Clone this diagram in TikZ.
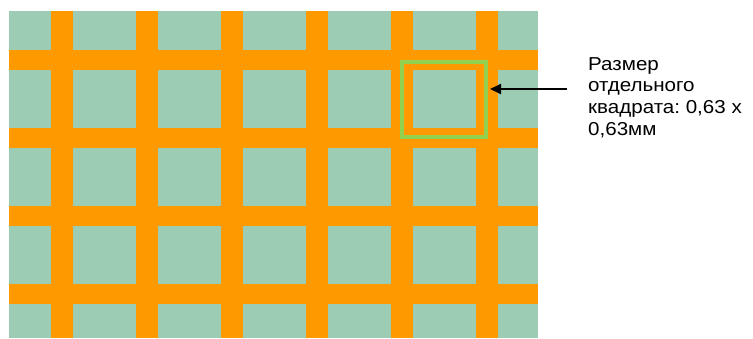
\documentclass[tikz,border=0pt]{standalone}
\usepackage{fontspec}
\setmainfont{Liberation Sans}[FakeStretch=1.1]
\usetikzlibrary{arrows.meta, positioning}
\definecolor{cCell}{RGB}{156,204,180}
\definecolor{cStripe}{RGB}{255,153,0}
\definecolor{cFrame}{RGB}{146,208,80}
\tikzset{
	stripe/.style   ={fill=cStripe},
	cellframe/.style={rectangle, draw=cFrame, line width=4pt, minimum width=84pt, minimum height=75pt, inner sep=0pt},
	note/.style     ={align=left, inner sep=0pt, anchor=north west, font=\fontsize{18.7}{21.8}\selectfont\frenchspacing},
	pointer/.style  ={-{Triangle[length=11pt, width=10pt]}, line width=2pt, shorten >=2pt},
}
\begin{document}
\begin{tikzpicture}[x=1pt, y=-1pt]
	\useasboundingbox (0,0) rectangle (753,338);
	% mesh
	\fill[cCell] (9,11) rectangle (538,338);
	\foreach \x in {51,136,221,306,391,476}
		\fill[stripe] (\x,11) rectangle (\x+22,338);
	\foreach \y in {50,128,206,284}
		\fill[stripe] (9,\y) rectangle (538,\y+20);
	% single cell and its label
	\node[cellframe] (cell) at (444,99.5) {};
	\node[note] (size) at (588,57) {Размер\\отдельного\\квадрата: 0,63 х\\0,63мм};
	\coordinate (tail) at (567,89);
	\draw[pointer] (tail) -- (tail -| cell.east);
\end{tikzpicture}
\end{document}
